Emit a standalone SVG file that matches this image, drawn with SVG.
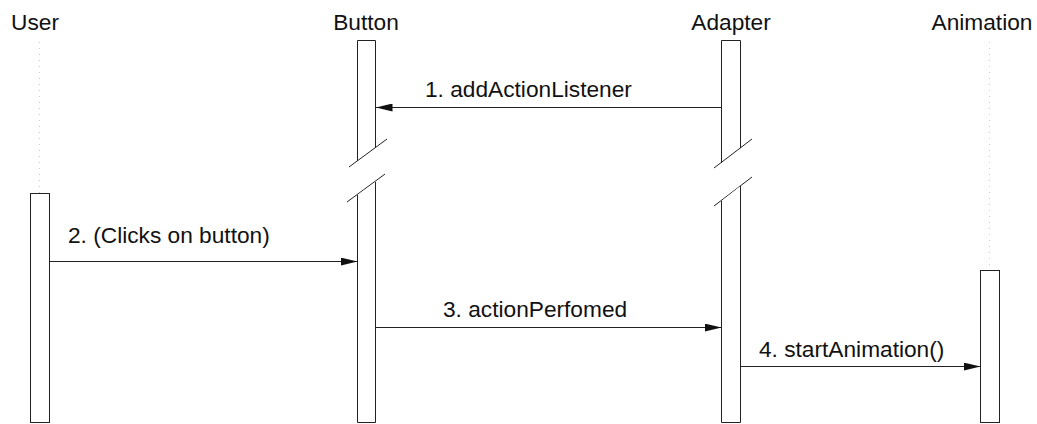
<svg xmlns="http://www.w3.org/2000/svg" width="1037" height="424" viewBox="0 0 1037 424">
  <style>
    .title { font-family: "Liberation Sans", Arial, sans-serif; font-size: 22.7px; fill: #111; }
    .label { font-family: "Liberation Sans", Arial, sans-serif; font-size: 22.7px; fill: #111; }
    .act { fill: #fff; stroke: #222; stroke-width: 1; }
    .lifeline { stroke: #c8c8c8; stroke-width: 1; stroke-dasharray: 1 5; fill: none; }
    .msg { stroke: #222; stroke-width: 1; fill: none; marker-end: url(#arrow); }
    .brk { stroke: #222; stroke-width: 1; fill: none; }
  </style>
  <defs>
    <marker id="arrow" viewBox="0 0 17 8" refX="17" refY="4" markerWidth="17" markerHeight="8" markerUnits="userSpaceOnUse" orient="auto">
      <path d="M0,0 L17,4 L0,8 Z" fill="#111"/>
    </marker>
  </defs>
  <rect width="1037" height="424" fill="#fff"/>

  <!-- User -->
  <g id="user">
    <text class="title" x="35" y="30" text-anchor="middle">User</text>
    <line class="lifeline" x1="39.5" y1="42" x2="39.5" y2="193"/>
    <rect class="act" x="30.5" y="193.5" width="19" height="229"/>
  </g>

  <!-- Button (with time break) -->
  <g id="button">
    <text class="title" x="366" y="30" text-anchor="middle">Button</text>
    <path class="act" d="M357.5,161 L357.5,40.5 L375.5,40.5 L375.5,148"/>
    <line class="brk" x1="349" y1="167" x2="387" y2="139"/>
    <line class="brk" x1="347" y1="202" x2="385" y2="174"/>
    <path class="act" d="M357.5,195 L357.5,422.5 L375.5,422.5 L375.5,182"/>
  </g>

  <!-- Adapter (with time break) -->
  <g id="adapter">
    <text class="title" x="731" y="30" text-anchor="middle">Adapter</text>
    <path class="act" d="M721.5,163 L721.5,40.5 L740.5,40.5 L740.5,148"/>
    <line class="brk" x1="714" y1="168" x2="752" y2="139"/>
    <line class="brk" x1="714" y1="206" x2="752" y2="177"/>
    <path class="act" d="M721.5,201 L721.5,422.5 L740.5,422.5 L740.5,186"/>
  </g>

  <!-- Animation -->
  <g id="animation">
    <text class="title" x="982" y="30" text-anchor="middle">Animation</text>
    <line class="lifeline" x1="989.5" y1="42" x2="989.5" y2="270"/>
    <rect class="act" x="980.5" y="270.5" width="19" height="152"/>
  </g>

  <!-- Messages -->
  <g id="connectors">
    <line class="msg" x1="721" y1="107.5" x2="375.5" y2="107.5"/>
    <text class="label" x="425" y="97">1. addActionListener</text>

    <line class="msg" x1="50" y1="261.5" x2="357.5" y2="261.5"/>
    <text class="label" x="68" y="243">2. (Clicks on button)</text>

    <line class="msg" x1="376" y1="327.5" x2="721.5" y2="327.5"/>
    <text class="label" x="443" y="317">3. actionPerfomed</text>

    <line class="msg" x1="741" y1="366.5" x2="980.5" y2="366.5"/>
    <text class="label" x="759" y="357">4. startAnimation()</text>
  </g>
</svg>
